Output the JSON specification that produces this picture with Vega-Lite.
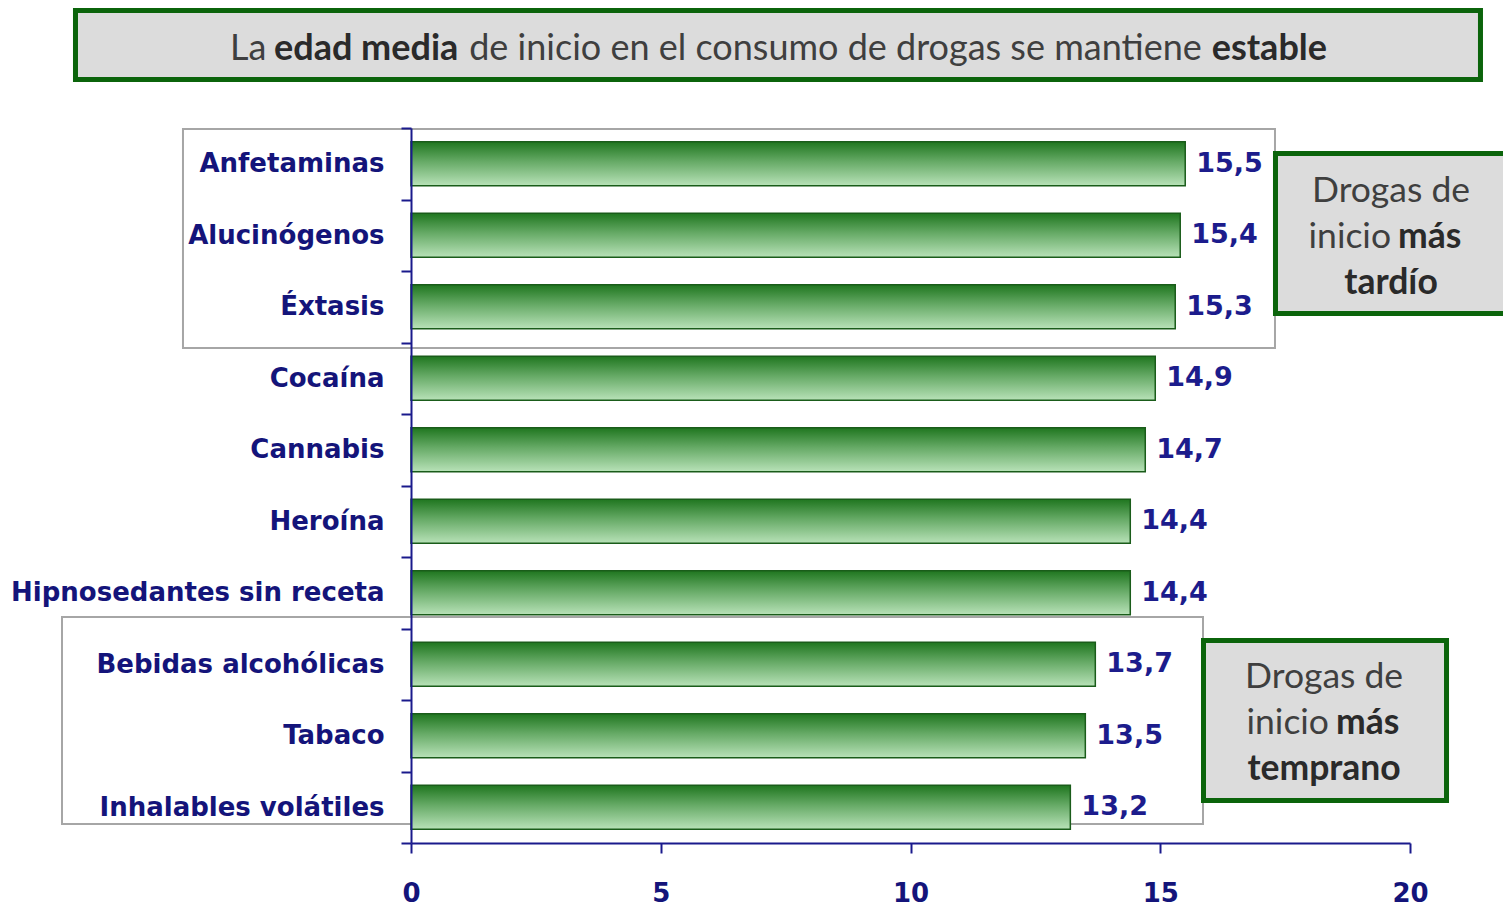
{
  "$schema": "https://vega.github.io/schema/vega-lite/v6.json",
  "width": 999,
  "height": 715,
  "autosize": {"type": "none"},
  "padding": {"left": 411, "top": 128, "right": 93, "bottom": 67},
  "background": "white",
  "config": {
    "view": {"stroke": null},
    "locale": {"number": {"decimal": ",", "thousands": ".", "grouping": [3], "currency": ["", " €"]}}
  },
  "datasets": {
    "bars": [
      {"droga": "Anfetaminas", "edad": 15.5},
      {"droga": "Alucinógenos", "edad": 15.4},
      {"droga": "Éxtasis", "edad": 15.3},
      {"droga": "Cocaína", "edad": 14.9},
      {"droga": "Cannabis", "edad": 14.7},
      {"droga": "Heroína", "edad": 14.4},
      {"droga": "Hipnosedantes sin receta", "edad": 14.4},
      {"droga": "Bebidas alcohólicas", "edad": 13.7},
      {"droga": "Tabaco", "edad": 13.5},
      {"droga": "Inhalables volátiles", "edad": 13.2}
    ],
    "groups": [
      {"grupo": "tardío", "x1": -4.565, "x2": 17.297, "y1": 9.986, "y2": 6.923},
      {"grupo": "temprano", "x1": -6.987, "x2": 15.856, "y1": 3.161, "y2": 0.266}
    ],
    "boxes": [
      {"caja": "titulo", "x1": -6.717, "x2": 21.411, "y1": 11.643, "y2": 10.678},
      {"caja": "tardío", "x1": 17.307, "x2": 22.1, "y1": 9.643, "y2": 7.406},
      {"caja": "temprano", "x1": 15.866, "x2": 20.731, "y1": 2.832, "y2": 0.594}
    ],
    "texts": [
      {"txt": "La", "x": -3.624, "y": 11.105, "k": "tn_l"},
      {"txt": "edad media", "x": -2.743, "y": 11.105, "k": "tb_l"},
      {"txt": "de inicio en el consumo de drogas se mantiene", "x": 8.498, "y": 11.105, "k": "tn_c"},
      {"txt": "estable", "x": 18.338, "y": 11.105, "k": "tb_r"},
      {"txt": "Drogas de", "x": 19.62, "y": 9.12, "k": "bn_c"},
      {"txt": "inicio", "x": 19.62, "y": 8.477, "k": "bn_r"},
      {"txt": "más", "x": 19.76, "y": 8.477, "k": "bb_l"},
      {"txt": "tardío", "x": 19.62, "y": 7.833, "k": "bb_c"},
      {"txt": "Drogas de", "x": 18.28, "y": 2.323, "k": "bn_c"},
      {"txt": "inicio", "x": 18.378, "y": 1.679, "k": "bn_r"},
      {"txt": "más", "x": 18.519, "y": 1.679, "k": "bb_l"},
      {"txt": "temprano", "x": 18.28, "y": 1.036, "k": "bb_c"}
    ]
  },
  "layer": [
    {
      "layer": [
        {
          "data": {"name": "groups"},
          "mark": {"type": "rect", "fill": "white", "stroke": "#a6a6a6", "strokeWidth": 2, "clip": false},
          "encoding": {
            "x": {"field": "x1", "type": "quantitative", "scale": {"domain": [0, 20], "nice": false, "zero": false}, "axis": {"title": null, "labels": false, "ticks": false, "domain": false, "grid": false}},
            "x2": {"field": "x2"},
            "y": {"field": "y1", "type": "quantitative", "scale": {"domain": [0, 10], "nice": false, "zero": false}, "axis": {"title": null, "labels": false, "ticks": false, "domain": false, "grid": false}},
            "y2": {"field": "y2"}
          }
        },
        {
          "data": {"name": "boxes"},
          "mark": {"type": "rect", "fill": "#dcdcdc", "stroke": "#0b640b", "strokeWidth": 5, "clip": false},
          "encoding": {
            "x": {"field": "x1", "type": "quantitative", "scale": {"domain": [0, 20], "nice": false, "zero": false}, "axis": {"title": null, "labels": false, "ticks": false, "domain": false, "grid": false}},
            "x2": {"field": "x2"},
            "y": {"field": "y1", "type": "quantitative", "scale": {"domain": [0, 10], "nice": false, "zero": false}, "axis": {"title": null, "labels": false, "ticks": false, "domain": false, "grid": false}},
            "y2": {"field": "y2"}
          }
        },
        {
          "data": {"name": "texts"},
          "transform": [{"filter": "datum.k === 'tn_l'"}],
          "mark": {"type": "text", "align": "left", "baseline": "middle", "font": "Lato", "fontSize": 36, "fontWeight": "normal", "color": "#3f3f3f", "clip": false},
          "encoding": {
            "x": {"field": "x", "type": "quantitative", "scale": {"domain": [0, 20], "nice": false, "zero": false}, "axis": {"title": null, "labels": false, "ticks": false, "domain": false, "grid": false}},
            "y": {"field": "y", "type": "quantitative", "scale": {"domain": [0, 10], "nice": false, "zero": false}, "axis": {"title": null, "labels": false, "ticks": false, "domain": false, "grid": false}},
            "text": {"field": "txt"}
          }
        },
        {
          "data": {"name": "texts"},
          "transform": [{"filter": "datum.k === 'tb_l'"}],
          "mark": {"type": "text", "align": "left", "baseline": "middle", "font": "Lato", "fontSize": 36, "fontWeight": "bold", "color": "#2a2a2a", "clip": false},
          "encoding": {
            "x": {"field": "x", "type": "quantitative", "scale": {"domain": [0, 20], "nice": false, "zero": false}, "axis": {"title": null, "labels": false, "ticks": false, "domain": false, "grid": false}},
            "y": {"field": "y", "type": "quantitative", "scale": {"domain": [0, 10], "nice": false, "zero": false}, "axis": {"title": null, "labels": false, "ticks": false, "domain": false, "grid": false}},
            "text": {"field": "txt"}
          }
        },
        {
          "data": {"name": "texts"},
          "transform": [{"filter": "datum.k === 'tn_c'"}],
          "mark": {"type": "text", "align": "center", "baseline": "middle", "font": "Lato", "fontSize": 36, "fontWeight": "normal", "color": "#3f3f3f", "clip": false},
          "encoding": {
            "x": {"field": "x", "type": "quantitative", "scale": {"domain": [0, 20], "nice": false, "zero": false}, "axis": {"title": null, "labels": false, "ticks": false, "domain": false, "grid": false}},
            "y": {"field": "y", "type": "quantitative", "scale": {"domain": [0, 10], "nice": false, "zero": false}, "axis": {"title": null, "labels": false, "ticks": false, "domain": false, "grid": false}},
            "text": {"field": "txt"}
          }
        },
        {
          "data": {"name": "texts"},
          "transform": [{"filter": "datum.k === 'tb_r'"}],
          "mark": {"type": "text", "align": "right", "baseline": "middle", "font": "Lato", "fontSize": 36, "fontWeight": "bold", "color": "#2a2a2a", "clip": false},
          "encoding": {
            "x": {"field": "x", "type": "quantitative", "scale": {"domain": [0, 20], "nice": false, "zero": false}, "axis": {"title": null, "labels": false, "ticks": false, "domain": false, "grid": false}},
            "y": {"field": "y", "type": "quantitative", "scale": {"domain": [0, 10], "nice": false, "zero": false}, "axis": {"title": null, "labels": false, "ticks": false, "domain": false, "grid": false}},
            "text": {"field": "txt"}
          }
        },
        {
          "data": {"name": "texts"},
          "transform": [{"filter": "datum.k === 'bn_c'"}],
          "mark": {"type": "text", "align": "center", "baseline": "middle", "font": "Lato", "fontSize": 35.5, "fontWeight": "normal", "color": "#3f3f3f", "clip": false},
          "encoding": {
            "x": {"field": "x", "type": "quantitative", "scale": {"domain": [0, 20], "nice": false, "zero": false}, "axis": {"title": null, "labels": false, "ticks": false, "domain": false, "grid": false}},
            "y": {"field": "y", "type": "quantitative", "scale": {"domain": [0, 10], "nice": false, "zero": false}, "axis": {"title": null, "labels": false, "ticks": false, "domain": false, "grid": false}},
            "text": {"field": "txt"}
          }
        },
        {
          "data": {"name": "texts"},
          "transform": [{"filter": "datum.k === 'bn_r'"}],
          "mark": {"type": "text", "align": "right", "baseline": "middle", "font": "Lato", "fontSize": 35.5, "fontWeight": "normal", "color": "#3f3f3f", "clip": false},
          "encoding": {
            "x": {"field": "x", "type": "quantitative", "scale": {"domain": [0, 20], "nice": false, "zero": false}, "axis": {"title": null, "labels": false, "ticks": false, "domain": false, "grid": false}},
            "y": {"field": "y", "type": "quantitative", "scale": {"domain": [0, 10], "nice": false, "zero": false}, "axis": {"title": null, "labels": false, "ticks": false, "domain": false, "grid": false}},
            "text": {"field": "txt"}
          }
        },
        {
          "data": {"name": "texts"},
          "transform": [{"filter": "datum.k === 'bb_l'"}],
          "mark": {"type": "text", "align": "left", "baseline": "middle", "font": "Lato", "fontSize": 35.5, "fontWeight": "bold", "color": "#2a2a2a", "clip": false},
          "encoding": {
            "x": {"field": "x", "type": "quantitative", "scale": {"domain": [0, 20], "nice": false, "zero": false}, "axis": {"title": null, "labels": false, "ticks": false, "domain": false, "grid": false}},
            "y": {"field": "y", "type": "quantitative", "scale": {"domain": [0, 10], "nice": false, "zero": false}, "axis": {"title": null, "labels": false, "ticks": false, "domain": false, "grid": false}},
            "text": {"field": "txt"}
          }
        },
        {
          "data": {"name": "texts"},
          "transform": [{"filter": "datum.k === 'bb_c'"}],
          "mark": {"type": "text", "align": "center", "baseline": "middle", "font": "Lato", "fontSize": 35.5, "fontWeight": "bold", "color": "#2a2a2a", "clip": false},
          "encoding": {
            "x": {"field": "x", "type": "quantitative", "scale": {"domain": [0, 20], "nice": false, "zero": false}, "axis": {"title": null, "labels": false, "ticks": false, "domain": false, "grid": false}},
            "y": {"field": "y", "type": "quantitative", "scale": {"domain": [0, 10], "nice": false, "zero": false}, "axis": {"title": null, "labels": false, "ticks": false, "domain": false, "grid": false}},
            "text": {"field": "txt"}
          }
        }
      ]
    },
    {
      "data": {"name": "bars"},
      "layer": [
        {
          "mark": {
            "type": "bar",
            "orient": "horizontal",
            "height": {"band": 0.615},
            "color": {"gradient": "linear", "x1": 0, "y1": 0, "x2": 0, "y2": 1, "stops": [{"offset": 0, "color": "#1f761f"}, {"offset": 0.45, "color": "#66aa66"}, {"offset": 1, "color": "#b8e2b8"}]},
            "stroke": "#1a5c1a",
            "strokeWidth": 1.5
          },
          "encoding": {
            "y": {
              "field": "droga", "type": "nominal", "sort": null,
              "scale": {"paddingInner": 0, "paddingOuter": 0},
              "axis": {"orient": "left", "title": null, "tickBand": "extent", "domainColor": "#1a1a8c", "domainWidth": 2, "tickColor": "#1a1a8c", "tickWidth": 2, "tickSize": 10, "labelFont": "DejaVu Sans", "labelFontWeight": "bold", "labelFontSize": 26, "labelColor": "#14147a", "labelPadding": 17, "labelLimit": 500, "zindex": 1}
            },
            "x": {
              "field": "edad", "type": "quantitative",
              "scale": {"domain": [0, 20], "nice": false, "zero": false},
              "axis": {"orient": "bottom", "title": null, "values": [0, 5, 10, 15, 20], "grid": false, "domainColor": "#1a1a8c", "domainWidth": 2, "tickColor": "#1a1a8c", "tickWidth": 2, "tickSize": 10, "labelFont": "DejaVu Sans", "labelFontWeight": "bold", "labelFontSize": 26, "labelColor": "#14147a", "labelPadding": 27, "labelFlush": false, "zindex": 1}
            }
          }
        },
        {
          "mark": {"type": "text", "align": "left", "baseline": "middle", "dx": 11, "font": "DejaVu Sans", "fontWeight": "bold", "fontSize": 27, "color": "#1c1c8c"},
          "encoding": {
            "y": {"field": "droga", "type": "nominal", "sort": null},
            "x": {"field": "edad", "type": "quantitative"},
            "text": {"field": "edad", "type": "quantitative", "format": ".1f"}
          }
        }
      ]
    }
  ],
  "resolve": {"scale": {"x": "independent", "y": "independent"}, "axis": {"x": "independent", "y": "independent"}}
}
